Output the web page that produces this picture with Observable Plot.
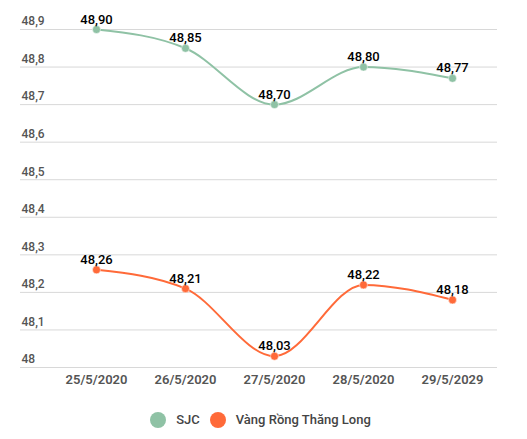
<!DOCTYPE html>
<html>
<head>
<meta charset="utf-8">
<script src="https://cdn.jsdelivr.net/npm/d3@7"></script>
<script src="https://cdn.jsdelivr.net/npm/@observablehq/plot@0.6"></script>
<style>
  html, body { margin: 0; padding: 0; background: #fff; }
  body { width: 527px; font-family: Roboto, "Noto Sans", sans-serif; }
  #legend { display: flex; justify-content: center; align-items: center; height: 39px; font-size: 13px; font-weight: 500; color: #444; padding-right: 6px; }
  .item { display: flex; align-items: center; margin: 0 5px; }
  .sw { width: 16px; height: 16px; border-radius: 50%; margin-right: 10px; }
</style>
</head>
<body>
<div id="chart"></div>
<div id="legend"></div>
<script>
const dates = ["25/5/2020", "26/5/2020", "27/5/2020", "28/5/2020", "29/5/2029"];
const sjc = [48.90, 48.85, 48.70, 48.80, 48.77];
const vrtl = [48.26, 48.21, 48.03, 48.22, 48.18];
const seriesNames = ["SJC", "Vàng Rồng Thăng Long"];
const seriesColors = ["#8fc2a5", "#ff6a39"];
const yTicks = [48, 48.1, 48.2, 48.3, 48.4, 48.5, 48.6, 48.7, 48.8, 48.9];

const data = [];
dates.forEach((d, i) => {
  data.push({date: d, value: sjc[i], series: seriesNames[0]});
  data.push({date: d, value: vrtl[i], series: seriesNames[1]});
});

const fmt = v => String(+v.toFixed(1)).replace(".", ",");
const fmt2 = v => v.toFixed(2).replace(".", ",");

const chart = Plot.plot({
  width: 527,
  height: 400,
  marginTop: 29,
  marginBottom: 33,
  marginLeft: 20,
  marginRight: 30,
  style: {fontFamily: "Roboto, 'Noto Sans', sans-serif", background: "#fff"},
  x: {type: "point", domain: dates, range: [50, 497], padding: 0.5},
  y: {domain: [48, 48.9]},
  color: {domain: seriesNames, range: seriesColors},
  marks: [
    Plot.gridY(yTicks, {stroke: "#d8d8d8", strokeOpacity: 1, strokeWidth: 1}),
    Plot.axisY(yTicks, {anchor: "left", tickSize: 0, tickPadding: 0, textAnchor: "start", dx: 1, dy: -8, tickFormat: fmt, fontSize: 12, fontWeight: 500, fill: "#555", label: null}),
    Plot.axisX({anchor: "bottom", tickSize: 0, tickPadding: 7, fontSize: 13, fontWeight: 600, fill: "#555", label: null}),
    Plot.line(data, {x: "date", y: "value", z: "series", stroke: "series", strokeWidth: 2, curve: "monotone-x"}),
    Plot.dot(data, {x: "date", y: "value", fill: "series", r: 4, stroke: "#fff", strokeWidth: 0.5}),
    Plot.text(data, {x: "date", y: "value", text: d => fmt2(d.value), dy: -10, fontSize: 13, fontWeight: 500, fill: "#000"})
  ]
});
document.getElementById("chart").appendChild(chart);

const legend = document.getElementById("legend");
seriesNames.forEach((n, i) => {
  const it = document.createElement("div");
  it.className = "item";
  it.innerHTML = `<span class="sw" style="background:${seriesColors[i]}"></span><span>${n}</span>`;
  legend.appendChild(it);
});
</script>
</body>
</html>
